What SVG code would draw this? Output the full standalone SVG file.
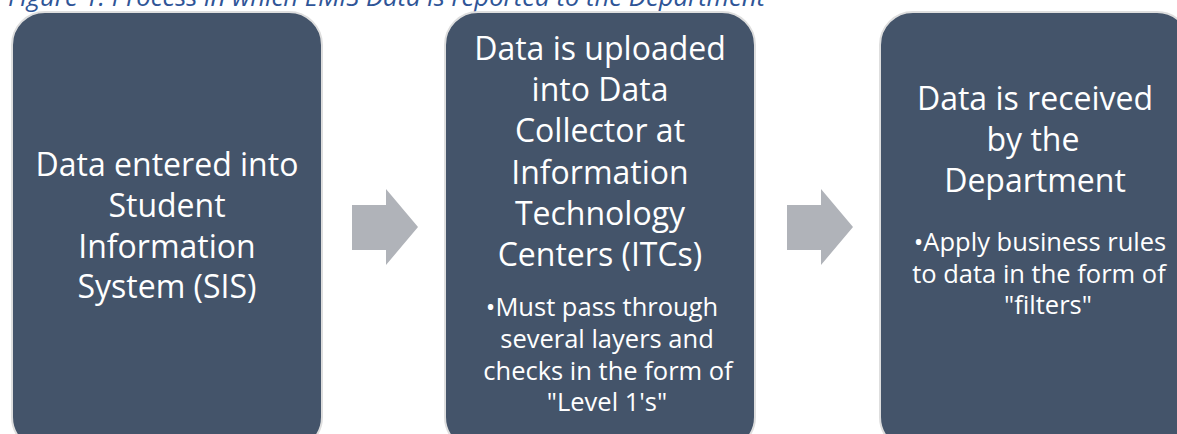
<svg xmlns="http://www.w3.org/2000/svg" width="1177" height="434" viewBox="0 0 1177 434">
  <style>
    .box { fill: #44546A; stroke: #DEDEDE; stroke-width: 2; }
    .arrow { fill: #B0B3B9; }
    .main { font-family: "Open Sans", "Noto Sans", sans-serif; font-size: 32px; fill: #FFFFFF; text-anchor: middle; }
    .sub { font-family: "Open Sans", "Noto Sans", sans-serif; font-size: 25.5px; fill: #FFFFFF; text-anchor: middle; }
    .title { font-family: "Open Sans", "Noto Sans", sans-serif; font-style: italic; font-size: 26px; fill: #2F5597; }
  </style>
  <rect width="1177" height="434" fill="#FFFFFF"/>
  <text class="title" x="8" y="6" textLength="757" lengthAdjust="spacingAndGlyphs">Figure 1: Process in which EMIS Data is reported to the Department</text>
  <g id="connectors">
    <polygon class="arrow" points="352,205 386,205 386,189 418,227 386,265 386,250 352,250"/>
    <polygon class="arrow" points="787,205 821,205 821,189 853,227 821,265 821,250 787,250"/>
  </g>
  <g id="node1">
    <rect class="box" x="12" y="12" width="310" height="438" rx="33" ry="33"/>
    <text class="main" x="167" y="176">Data entered into</text>
    <text class="main" x="167" y="217">Student</text>
    <text class="main" x="167" y="258">Information</text>
    <text class="main" x="167" y="298">System (SIS)</text>
  </g>
  <g id="node2">
    <rect class="box" x="445" y="12" width="310" height="438" rx="33" ry="33"/>
    <text class="main" x="600" y="60">Data is uploaded</text>
    <text class="main" x="600" y="101">into Data</text>
    <text class="main" x="600" y="142">Collector at</text>
    <text class="main" x="600" y="184">Information</text>
    <text class="main" x="600" y="225">Technology</text>
    <text class="main" x="600" y="266">Centers (ITCs)</text>
    <text class="sub" x="602" y="316">•Must pass through</text>
    <text class="sub" x="607" y="348">several layers and</text>
    <text class="sub" x="608" y="380">checks in the form of</text>
    <text class="sub" x="607" y="411">"Level 1's"</text>
  </g>
  <g id="node3">
    <rect class="box" x="880" y="12" width="310" height="438" rx="33" ry="33"/>
    <text class="main" x="1035" y="110">Data is received</text>
    <text class="main" x="1033" y="151">by the</text>
    <text class="main" x="1035" y="192">Department</text>
    <text class="sub" x="1040" y="251">•Apply business rules</text>
    <text class="sub" x="1039" y="283">to data in the form of</text>
    <text class="sub" x="1048" y="314">"filters"</text>
  </g>
</svg>
